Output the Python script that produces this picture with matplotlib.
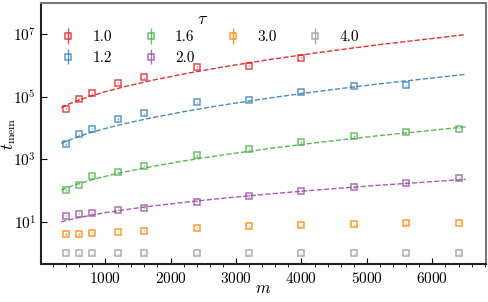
import numpy as np
import matplotlib.pyplot as plt

plt.rcParams['font.family'] = 'serif'
plt.rcParams['font.serif'] = ['cmr10', 'DejaVu Serif']
plt.rcParams['mathtext.fontset'] = 'cm'
plt.rcParams['axes.formatter.use_mathtext'] = True

# measured points
m_vals = [400, 600, 800, 1200, 1600, 2400, 3200, 4000, 4800, 5600, 6400]
taus = ['1.0', '1.2', '1.6', '2.0', '3.0', '4.0']
colors = ['#e41a1c', '#377eb8', '#4daf4a', '#984ea3', '#ff7f00', '#999999']

t_10 = [4.2e4, 8.7e4, 1.29e5, 2.8e5, 4.2e5, 9.3e5, 9.8e5, 1.8e6]
t_12 = [3.1e3, 6.4e3, 9.5e3, 1.95e4, 2.95e4, 6.6e4, 7.8e4, 1.41e5, 2.14e5, 2.35e5]
t_16 = [105, 155, 295, 390, 620, 1380, 2200, 3600, 5600, 7300, 9500]
t_20 = [15.9, 18.0, 19.9, 24.2, 28.6, 44.6, 67.6, 100, 129, 176, 259]
t_30 = [4.1, 4.1, 4.45, 4.9, 5.27, 6.6, 7.3, 7.85, 8.45, 9.1, 9.3]
t_40 = [1.03, 0.98, 0.99, 0.98, 0.98, 0.98, 0.98, 0.98, 0.98, 0.98, 0.98]
rel_err = 0.04

# fitted curves (log10 t)
fit_m = [330, 450, 600, 800, 1000, 1300, 1700, 2200, 2800, 3500, 4300, 5200, 6510]
fit_10 = [4.66, 4.774, 4.896, 5.037, 5.162, 5.327, 5.520, 5.731, 5.955, 6.188, 6.427, 6.671, 6.99]
fit_12 = [3.51, 3.618, 3.734, 3.868, 3.986, 4.142, 4.325, 4.526, 4.738, 4.959, 5.186, 5.417, 5.72]
fit_16 = [2.02, 2.118, 2.224, 2.347, 2.455, 2.598, 2.765, 2.948, 3.142, 3.344, 3.551, 3.762, 4.04]
fit_20 = [1.00, 1.066, 1.138, 1.220, 1.293, 1.389, 1.502, 1.625, 1.756, 1.892, 2.032, 2.174, 2.36]

series = [t_10, t_12, t_16, t_20, t_30, t_40]
fits = [fit_10, fit_12, fit_16, fit_20]

fig = plt.figure(figsize=(4.89, 3.02), dpi=100)
ax = fig.add_axes([0.0838, 0.1258, 0.9101, 0.8642])

handles = []
for tau, t, c in zip(taus, series, colors):
    t = np.array(t)
    m = m_vals[:len(t)]
    h = ax.errorbar(m, t, yerr=rel_err * t, fmt='s', ms=4.5, mfc='none',
                    mec=c, mew=1.1, ecolor=c, elinewidth=1.0, alpha=0.8,
                    label=tau)
    handles.append(h)

for f, c in zip(fits, colors):
    ax.plot(fit_m, 10 ** np.array(f), '--', color=c, lw=1.0, alpha=0.9)

ax.set_yscale('log')
ax.set_ylim(0.45, 1e8)
ax.set_xlim(20, 6820)
ax.set_yticks([1e1, 1e3, 1e5, 1e7])
ax.yaxis.set_minor_locator(plt.NullLocator())
ax.set_xticks([1000, 2000, 3000, 4000, 5000, 6000])
ax.set_xticks(np.arange(200, 6900, 200), minor=True)
ax.tick_params(direction='in', labelsize=11)
ax.tick_params(which='major', length=4, width=0.8)
ax.tick_params(which='minor', length=2, width=0.6)
ax.tick_params(axis='x', pad=5)

for s in ['left', 'bottom']:
    ax.spines[s].set_color('#222222')
    ax.spines[s].set_linewidth(1.5)
for s in ['top', 'right']:
    ax.spines[s].set_color('#777777')
    ax.spines[s].set_linewidth(1.5)

ax.set_xlabel('$m$', fontsize=12)
ax.xaxis.set_label_coords(0.5, -0.064)
ax.set_ylabel(r'$t_{\mathrm{mem}}$', fontsize=12)
ax.yaxis.set_label_coords(-0.051, 0.5)

ax.legend(handles=handles, ncol=4, frameon=False, fontsize=11,
          loc='upper left', bbox_to_anchor=(0.01, 0.947), handlelength=1.2,
          handletextpad=1.0, columnspacing=1.9, labelspacing=0.45)
ax.text(0.364, 0.938, r'$\tau$', transform=ax.transAxes, fontsize=13,
        ha='center', va='center')

fig.savefig('out.png', dpi=100)
